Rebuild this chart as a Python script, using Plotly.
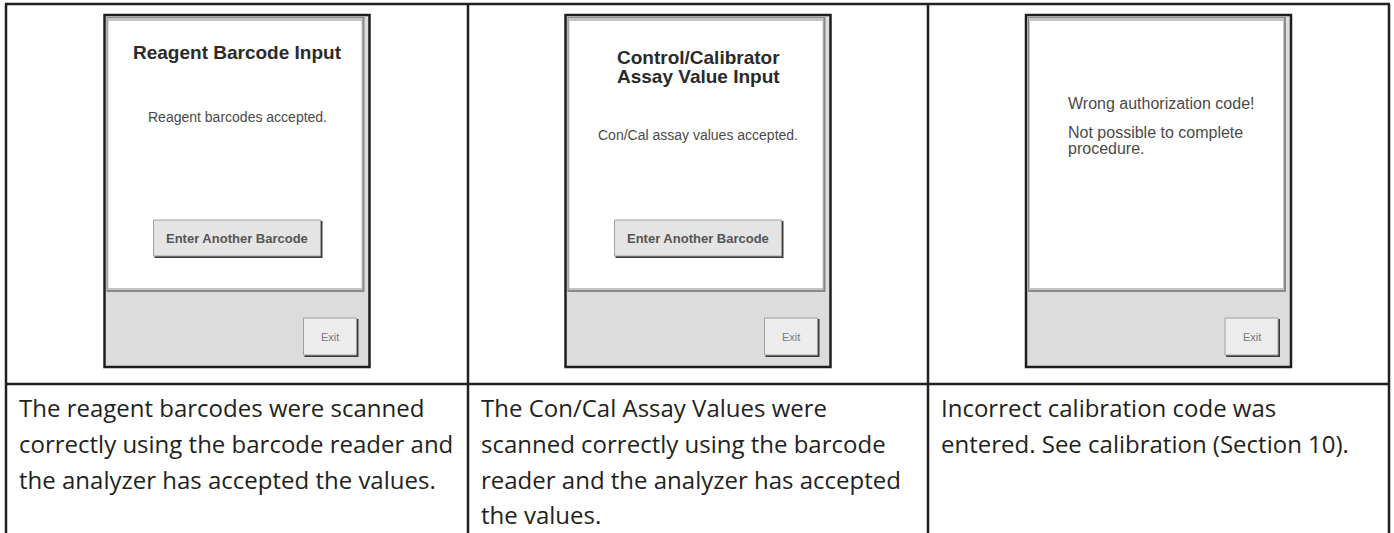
import plotly.graph_objects as go

W, H = 1394, 533

# ---- content ----
col_edges = [6, 468, 928, 1389]
top_border_y = 4
row_divider_y = 384

screen_titles = [["Reagent Barcode Input"], ["Control/Calibrator", "Assay Value Input"], []]
title_y = [[52], [57, 76], []]
screen_messages = [["Reagent barcodes accepted."],
                   ["Con/Cal assay values accepted."],
                   ["Wrong authorization code!", "Not possible to complete", "procedure."]]
message_y = [[117], [135], [103, 132, 148]]
message_align = ["center", "center", "left"]
screen_buttons = ["Enter Another Barcode", "Enter Another Barcode", None]
exit_label = "Exit"

descriptions = [
    ["The reagent barcodes were scanned",
     "correctly using the barcode reader and",
     "the analyzer has accepted the values."],
    ["The Con/Cal Assay Values were",
     "scanned correctly using the barcode",
     "reader and the analyzer has accepted",
     "the values."],
    ["Incorrect calibration code was",
     "entered. See calibration (Section 10)."],
]
desc_line_y = [407, 443, 479, 514]

# ---- styles ----
LINE = "#231f20"
TABLE_FONT = "Open Sans"
UI_FONT = "Liberation Sans"
FRAME_W, FRAME_T, FRAME_B = 265, 15, 367
PANEL_B = 290

fig = go.Figure()
fig.add_trace(go.Scatter(x=[0, W], y=[0, H], mode="markers",
                         marker=dict(opacity=0), hoverinfo="skip", showlegend=False))

shapes = []
annotations = []

def rect(x0, y0, x1, y1, fill, line_color=None, lw=0):
    shapes.append(dict(type="rect", xref="x", yref="y", x0=x0, y0=y0, x1=x1, y1=y1,
                       fillcolor=fill, line=dict(color=line_color or fill, width=lw),
                       layer="above"))

def line(x0, y0, x1, y1, color, w):
    shapes.append(dict(type="line", xref="x", yref="y", x0=x0, y0=y0, x1=x1, y1=y1,
                       line=dict(color=color, width=w), layer="above"))

def button(x0, y0, x1, y1, fill):
    rect(x0 + 1, y0 + 1, x1 + 2, y1 + 2, "#3c3c3c")      # dark shadow
    rect(x0, y0, x1, y1, fill, "#a0a0a0", 1)

for i in range(3):
    cx = (col_edges[i] + col_edges[i + 1]) / 2
    L = cx - FRAME_W / 2
    R = cx + FRAME_W / 2
    # frame with grey lower area
    rect(L, FRAME_T, R, FRAME_B, "#dcdcdc", "#1e1e1e", 2.5)
    # white panel with bevel/shadow
    rect(L + 2, FRAME_T + 2, R - 5, PANEL_B + 2, "#8a8a8a")
    rect(L + 3, FRAME_T + 3, R - 7, PANEL_B, "#c4c4c4")
    rect(L + 4, FRAME_T + 6, R - 8, PANEL_B - 2, "#ffffff")
    # titles
    for t, ty in zip(screen_titles[i], title_y[i]):
        annotations.append(dict(x=cx, y=ty, text="<b>%s</b>" % t, showarrow=False,
                                xanchor="center", yanchor="middle",
                                font=dict(family=UI_FONT, size=19, color="#2a2a2a")))
    # messages
    for t, ty in zip(screen_messages[i], message_y[i]):
        if message_align[i] == "center":
            annotations.append(dict(x=cx, y=ty, text=t, showarrow=False,
                                    xanchor="center", yanchor="middle",
                                    font=dict(family=UI_FONT, size=14, color="#4a4a4a")))
        else:
            annotations.append(dict(x=L + 40, y=ty, text=t, showarrow=False,
                                    xanchor="left", yanchor="middle",
                                    font=dict(family=UI_FONT, size=16, color="#4a4a4a")))
    # enter another barcode button
    if screen_buttons[i]:
        button(L + 49, 220, L + 216, 256, "#e4e4e4")
        annotations.append(dict(x=(L + 49 + L + 216) / 2, y=238, text="<b>%s</b>" % screen_buttons[i],
                                showarrow=False, xanchor="center", yanchor="middle",
                                font=dict(family=UI_FONT, size=13, color="#555555")))
    # exit button
    button(L + 199, 318, L + 252, 355, "#ececec")
    annotations.append(dict(x=L + 225.5, y=337, text=exit_label, showarrow=False,
                            xanchor="center", yanchor="middle",
                            font=dict(family=UI_FONT, size=11, color="#7a7a7a")))
    # description text
    for t, ty in zip(descriptions[i], desc_line_y):
        annotations.append(dict(x=col_edges[i] + 11, y=ty, text=t, showarrow=False,
                                xanchor="left", yanchor="middle",
                                font=dict(family=TABLE_FONT, size=24, color="#231f20")))

# table grid
line(col_edges[0] - 1, top_border_y, col_edges[-1] + 1, top_border_y, LINE, 2.5)
line(col_edges[0], row_divider_y, col_edges[-1], row_divider_y, LINE, 2.5)
for x in col_edges:
    line(x, top_border_y, x, H, LINE, 2.5)

fig.update_layout(
    width=W, height=H,
    margin=dict(l=0, r=0, t=0, b=0),
    paper_bgcolor="white", plot_bgcolor="white",
    xaxis=dict(range=[0, W], visible=False, fixedrange=True),
    yaxis=dict(range=[H, 0], visible=False, fixedrange=True),
    shapes=shapes, annotations=annotations, showlegend=False,
)
fig.write_html("out.html", config=dict(displayModeBar=False),
               post_script="document.body.style.margin='0';document.body.style.overflow='hidden';")
